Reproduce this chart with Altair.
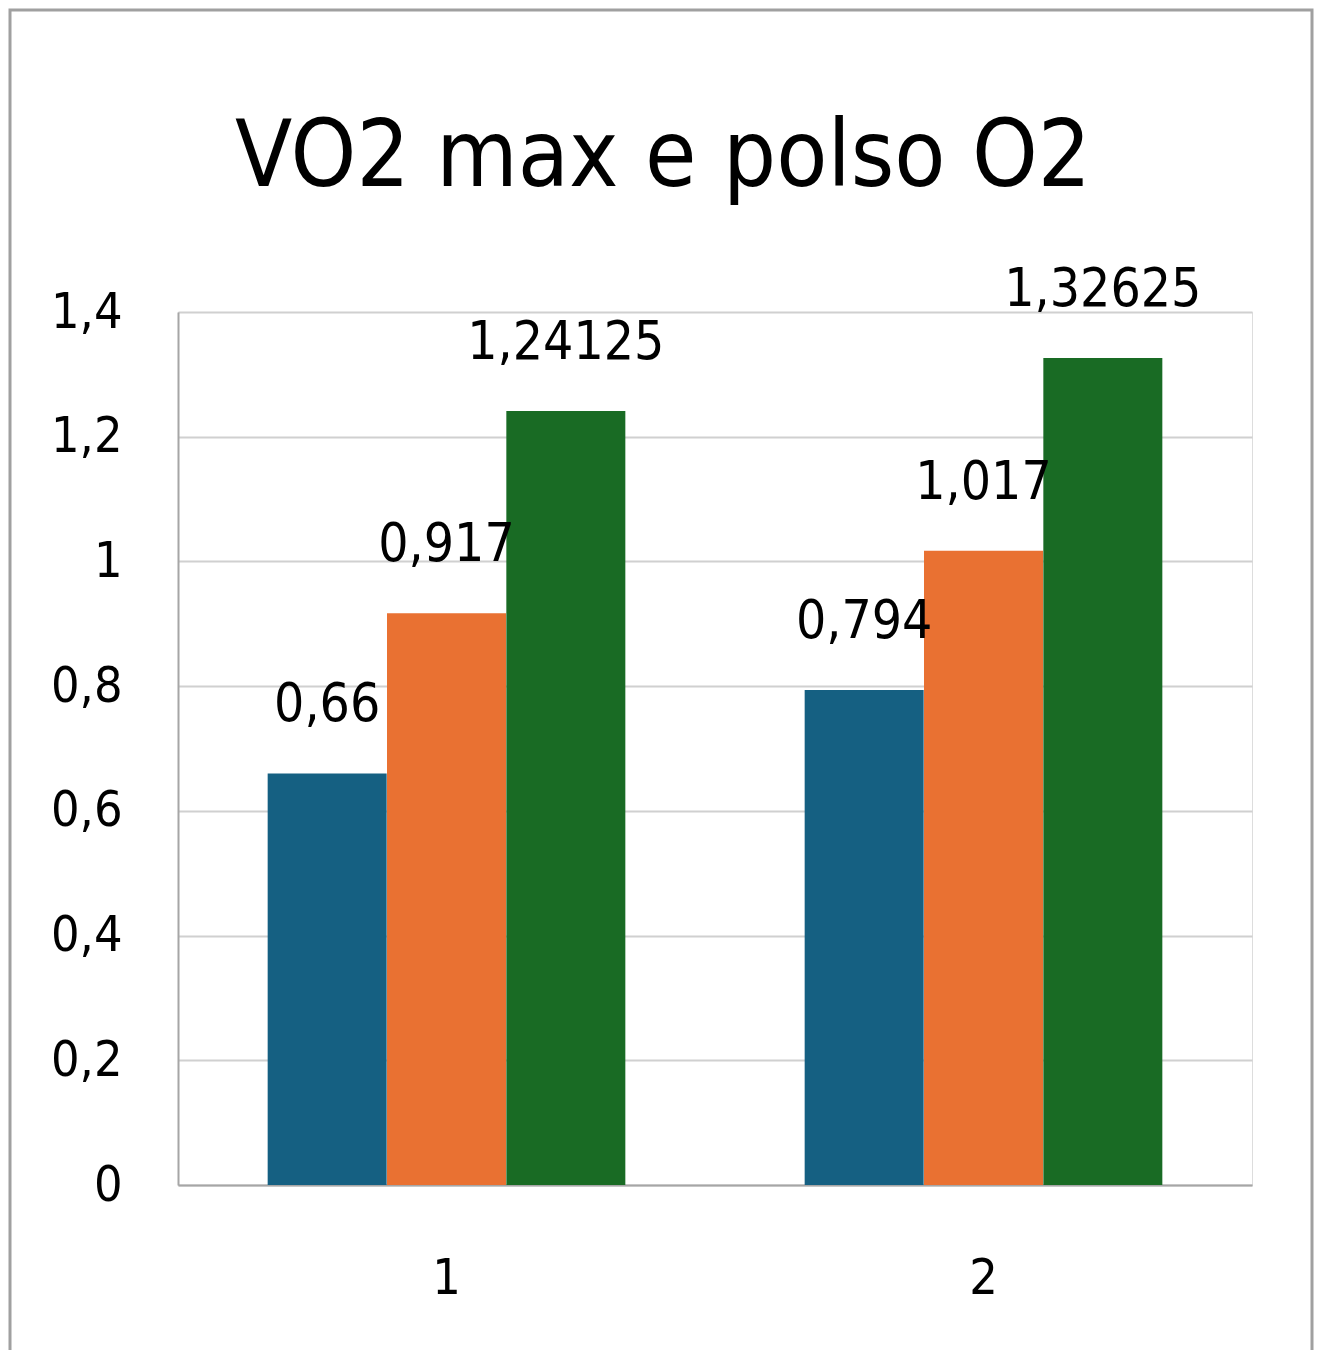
import altair as alt
import pandas as pd

groups = ["1", "1", "1", "2", "2", "2"]
series = ["Série 1", "Série 2", "Série 3", "Série 1", "Série 2", "Série 3"]
values = [0.66, 0.917, 1.24125, 0.794, 1.017, 1.32625]
series_names = ["Série 1", "Série 2", "Série 3"]
series_colors = ["#156082", "#E97132", "#196B24"]
y_ticks = [0, 0.2, 0.4, 0.6, 0.8, 1, 1.2, 1.4]
title_text = "VO2 max e polso O2"

FONT = "DejaVu Sans Condensed, Liberation Sans Narrow, sans-serif"

df = pd.DataFrame({"grupo": groups, "serie": series, "valor": values})

x_enc = alt.X("grupo:N", title=None,
              scale=alt.Scale(paddingInner=1/3, paddingOuter=1/6),
              axis=alt.Axis(labelAngle=0, labelFontSize=50, labelPadding=68,
                            labelColor="black", labelFont=FONT, ticks=False,
                            domainColor="#a6a6a6", domainWidth=2, grid=False))
xo_enc = alt.XOffset("serie:N", sort=series_names, scale=alt.Scale(paddingInner=0, paddingOuter=0))
y_enc = alt.Y("valor:Q", title=None,
              scale=alt.Scale(domain=[0, 1.4], nice=False),
              axis=alt.Axis(values=y_ticks, labelFontSize=50, labelPadding=56,
                            labelColor="black", labelFont=FONT, ticks=False,
                            labelExpr="replace(toString(datum.value), '.', ',')",
                            domainColor="#a6a6a6", domainWidth=2,
                            gridColor="#d0d0d0", gridWidth=2))

base = alt.Chart(df)

bars = base.mark_bar(size=119).encode(
    x=x_enc, xOffset=xo_enc, y=y_enc,
    color=alt.Color("serie:N", scale=alt.Scale(domain=series_names, range=series_colors), legend=None),
)

labels = base.transform_calculate(
    rotulo="replace(toString(datum.valor), '.', ',')"
).mark_text(fontSize=53, font=FONT, baseline="alphabetic", dy=-52, color="black").encode(
    x=x_enc, xOffset=xo_enc, y=y_enc, text="rotulo:N"
)

frame = alt.Chart(pd.DataFrame({"a": [0]})).mark_rect(
    fill=None, stroke="#a0a0a0", strokeWidth=3
).encode(
    x=alt.value(-168), x2=alt.value(1134), y=alt.value(-302), y2=alt.value(1100)
)

chart = alt.layer(frame, bars, labels).properties(
    width=1074, height=873,
    title=alt.TitleParams(title_text, fontSize=93, font=FONT, fontWeight="normal",
                          color="black", anchor="middle", offset=-270, dx=-52,
                          baseline="alphabetic"),
    autosize=alt.AutoSizeParams(type="none"),
    padding={"left": 170, "top": 304, "right": 62, "bottom": 165},
).configure_view(stroke=None).configure(background="white")

chart.save("out.html", embed_options={"renderer": "svg", "actions": False})
